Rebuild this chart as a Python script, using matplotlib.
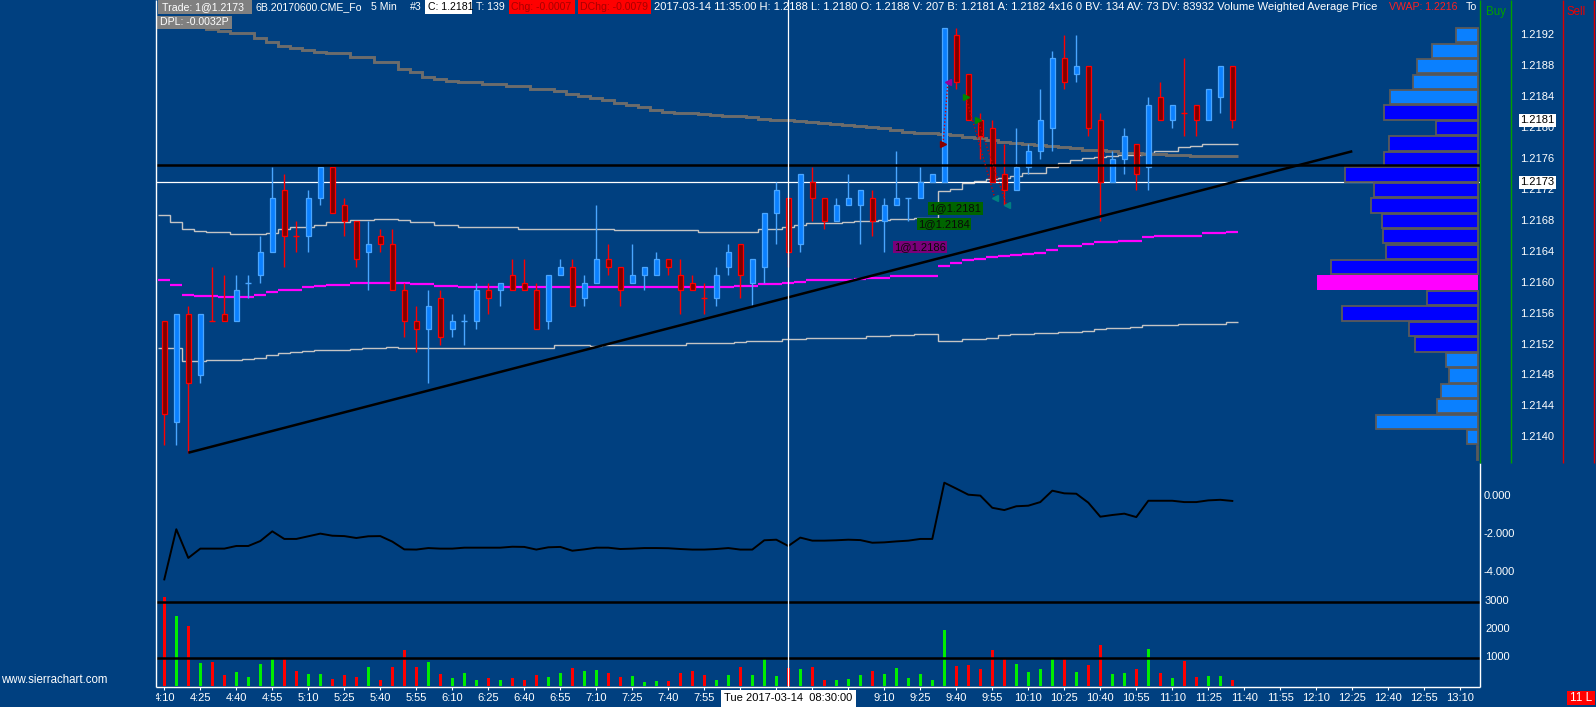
import numpy as np
import matplotlib
matplotlib.use("Agg")
import matplotlib.pyplot as plt
from matplotlib.transforms import blended_transform_factory as blend

plt.rcParams['font.family'] = ['Liberation Sans', 'DejaVu Sans']

# ---------------- data ----------------
OPEN = [1.2155, 1.2142, 1.2156, 1.2148, 1.2155, 1.2156, 1.2155, 1.2160, 1.2161, 1.2164,
        1.2172, 1.2166, 1.2166, 1.2171, 1.2175, 1.2170, 1.2168, 1.2164, 1.2166, 1.2165,
        1.2159, 1.2155, 1.2154, 1.2158, 1.2154, 1.2155, 1.2155, 1.2159, 1.2159, 1.2161,
        1.2160, 1.2159, 1.2155, 1.2161, 1.2162, 1.2158, 1.2160, 1.2163, 1.2162, 1.2160,
        1.2161, 1.2161, 1.2163, 1.2161, 1.2160, 1.2158, 1.2158, 1.2162, 1.2165, 1.2160,
        1.2162, 1.2169, 1.2171, 1.2165, 1.2173, 1.2171, 1.2168, 1.2170, 1.2170, 1.2171,
        1.2168, 1.2170, 1.2171, 1.2171, 1.2173, 1.2173, 1.2192, 1.2187, 1.2181, 1.2180,
        1.2174, 1.2172, 1.2175, 1.2177, 1.2180, 1.2189, 1.2187, 1.2188, 1.2181, 1.2173,
        1.2176, 1.2178, 1.2175, 1.2184, 1.2181, 1.2182, 1.2183, 1.2181, 1.2184, 1.2188]
HIGH = [1.2155, 1.2156, 1.2157, 1.2156, 1.2162, 1.2161, 1.2161, 1.2161, 1.2166, 1.2175,
        1.2174, 1.2168, 1.2172, 1.2175, 1.2175, 1.2171, 1.2168, 1.2168, 1.2167, 1.2167,
        1.2160, 1.2157, 1.2159, 1.2159, 1.2156, 1.2156, 1.2160, 1.2160, 1.2160, 1.2163,
        1.2163, 1.2160, 1.2161, 1.2163, 1.2163, 1.2161, 1.2170, 1.2165, 1.2162, 1.2165,
        1.2162, 1.2164, 1.2163, 1.2163, 1.2161, 1.2160, 1.2162, 1.2165, 1.2165, 1.2163,
        1.2169, 1.2173, 1.2171, 1.2174, 1.2175, 1.2171, 1.2171, 1.2174, 1.2172, 1.2172,
        1.2171, 1.2177, 1.2171, 1.2175, 1.2174, 1.2193, 1.2193, 1.2187, 1.2182, 1.2181,
        1.2178, 1.2180, 1.2178, 1.2185, 1.2190, 1.2192, 1.2192, 1.2188, 1.2182, 1.2177,
        1.2180, 1.2178, 1.2184, 1.2186, 1.2183, 1.2189, 1.2183, 1.2185, 1.2188, 1.2188]
LOW = [1.2139, 1.2139, 1.2138, 1.2147, 1.2155, 1.2155, 1.2155, 1.2158, 1.2160, 1.2164,
       1.2162, 1.2164, 1.2164, 1.2170, 1.2169, 1.2166, 1.2162, 1.2159, 1.2164, 1.2159,
       1.2153, 1.2151, 1.2147, 1.2152, 1.2153, 1.2152, 1.2154, 1.2156, 1.2157, 1.2159,
       1.2159, 1.2154, 1.2154, 1.2161, 1.2157, 1.2157, 1.2160, 1.2161, 1.2157, 1.2160,
       1.2159, 1.2161, 1.2161, 1.2156, 1.2159, 1.2156, 1.2157, 1.2161, 1.2158, 1.2157,
       1.2160, 1.2165, 1.2162, 1.2164, 1.2168, 1.2167, 1.2168, 1.2170, 1.2165, 1.2166,
       1.2164, 1.2170, 1.2168, 1.2171, 1.2173, 1.2173, 1.2185, 1.2181, 1.2176, 1.2173,
       1.2170, 1.2172, 1.2174, 1.2176, 1.2177, 1.2185, 1.2186, 1.2179, 1.2168, 1.2173,
       1.2174, 1.2172, 1.2172, 1.2181, 1.2180, 1.2179, 1.2179, 1.2181, 1.2182, 1.2180]
CLOSE = [1.2143, 1.2156, 1.2147, 1.2156, 1.2155, 1.2155, 1.2159, 1.2160, 1.2164, 1.2171,
         1.2166, 1.2166, 1.2171, 1.2175, 1.2169, 1.2168, 1.2163, 1.2165, 1.2165, 1.2159,
         1.2155, 1.2154, 1.2157, 1.2153, 1.2155, 1.2155, 1.2159, 1.2158, 1.2160, 1.2159,
         1.2159, 1.2154, 1.2161, 1.2162, 1.2157, 1.2160, 1.2163, 1.2162, 1.2159, 1.2161,
         1.2162, 1.2163, 1.2162, 1.2159, 1.2159, 1.2158, 1.2161, 1.2164, 1.2161, 1.2163,
         1.2169, 1.2172, 1.2164, 1.2174, 1.2171, 1.2168, 1.2170, 1.2171, 1.2172, 1.2168,
         1.2170, 1.2171, 1.2171, 1.2173, 1.2174, 1.2193, 1.2186, 1.2181, 1.2179, 1.2173,
         1.2172, 1.2175, 1.2177, 1.2181, 1.2189, 1.2186, 1.2188, 1.2180, 1.2173, 1.2176,
         1.2179, 1.2174, 1.2183, 1.2181, 1.2183, 1.2182, 1.2181, 1.2185, 1.2188, 1.2181]
DOJI_UP = [7, 25, 62]

VOLUME = [3159, 2492, 2141, 807, 842, 374, 491, 316, 772, 948,
          994, 503, 421, 421, 246, 386, 316, 667, 211, 667,
          1264, 667, 842, 421, 281, 456, 211, 281, 211, 281,
          211, 386, 316, 456, 632, 527, 562, 456, 316, 351,
          140, 176, 152, 433, 527, 386, 211, 386, 667, 386,
          983, 351, 632, 597, 667, 211, 211, 246, 386, 527,
          421, 632, 281, 421, 211, 1966, 702, 737, 597, 1264,
          983, 772, 491, 597, 948, 983, 491, 737, 1439, 421,
          456, 597, 1299, 456, 281, 878, 316, 351, 351, 207]

DELTA = [-4.39, -1.75, -3.26, -2.77, -2.77, -2.77, -2.63, -2.63, -2.37, -1.86,
         -2.26, -2.26, -2.12, -1.98, -2.09, -2.11, -2.21, -2.12, -2.11, -2.40,
         -2.81, -2.82, -2.74, -2.77, -2.77, -2.72, -2.72, -2.72, -2.72, -2.67,
         -2.68, -2.82, -2.70, -2.68, -2.88, -2.81, -2.72, -2.72, -2.79, -2.77,
         -2.74, -2.74, -2.75, -2.79, -2.82, -2.82, -2.79, -2.74, -2.82, -2.82,
         -2.33, -2.30, -2.63, -2.19, -2.35, -2.35, -2.33, -2.30, -2.32, -2.46,
         -2.44, -2.39, -2.35, -2.26, -2.26, 0.70, 0.39, 0.07, 0.02, -0.62,
         -0.74, -0.54, -0.51, -0.32, 0.28, 0.14, 0.12, -0.35, -1.09, -1.00,
         -0.93, -1.11, -0.25, -0.25, -0.25, -0.32, -0.32, -0.23, -0.20, -0.26]

MA_GRAY = [1.21938, 1.21936, 1.21934, 1.21932, 1.21928, 1.21926, 1.21923, 1.21923, 1.21917, 1.21911,
           1.21906, 1.21903, 1.21901, 1.21899, 1.21897, 1.21897, 1.21892, 1.21892, 1.21886, 1.21886,
           1.21877, 1.21872, 1.21866, 1.21864, 1.21861, 1.21859, 1.21859, 1.21857, 1.21857, 1.21854,
           1.21854, 1.21851, 1.21851, 1.21848, 1.21844, 1.21841, 1.21839, 1.21836, 1.21833, 1.21830,
           1.21827, 1.21824, 1.21821, 1.21820, 1.21819, 1.21818, 1.21817, 1.21816, 1.21815, 1.21814,
           1.21812, 1.21810, 1.21810, 1.21809, 1.21808, 1.21806, 1.21805, 1.21804, 1.21803, 1.21801,
           1.21800, 1.21798, 1.21795, 1.21794, 1.21793, 1.21792, 1.21791, 1.21789, 1.21787, 1.21785,
           1.21782, 1.21781, 1.21780, 1.21778, 1.21777, 1.21776, 1.21774, 1.21772, 1.21771, 1.21770,
           1.21768, 1.21768, 1.21767, 1.21766, 1.21765, 1.21765, 1.21764, 1.21764, 1.21764, 1.21764]

BAND_UP = [1.21688, 1.21678, 1.21669, 1.21667, 1.21665, 1.21665, 1.21663, 1.21663, 1.21663, 1.21664,
           1.21670, 1.21672, 1.21672, 1.21675, 1.21679, 1.21679, 1.21681, 1.21681, 1.21682, 1.21682,
           1.21681, 1.21678, 1.21678, 1.21675, 1.21674, 1.21672, 1.21672, 1.21672, 1.21672, 1.21672,
           1.21670, 1.21670, 1.21670, 1.21670, 1.21669, 1.21669, 1.21669, 1.21669, 1.21668, 1.21668,
           1.21668, 1.21668, 1.21668, 1.21668, 1.21668, 1.21666, 1.21666, 1.21666, 1.21666, 1.21666,
           1.21669, 1.21670, 1.21672, 1.21674, 1.21677, 1.21677, 1.21677, 1.21678, 1.21680, 1.21680,
           1.21681, 1.21682, 1.21683, 1.21684, 1.21684, 1.21718, 1.21721, 1.21729, 1.21731, 1.21734,
           1.21736, 1.21738, 1.21742, 1.21742, 1.21750, 1.21755, 1.21759, 1.21761, 1.21762, 1.21764,
           1.21765, 1.21765, 1.21768, 1.21770, 1.21770, 1.21775, 1.21777, 1.21779, 1.21779, 1.21780]

BAND_MID = [1.21603, 1.21597, 1.21584, 1.21583, 1.21583, 1.21582, 1.21582, 1.21582, 1.21584, 1.21588,
            1.21591, 1.21591, 1.21594, 1.21596, 1.21597, 1.21597, 1.21599, 1.21599, 1.21600, 1.21600,
            1.21600, 1.21598, 1.21598, 1.21596, 1.21596, 1.21595, 1.21595, 1.21595, 1.21595, 1.21595,
            1.21595, 1.21595, 1.21595, 1.21594, 1.21595, 1.21594, 1.21595, 1.21595, 1.21595, 1.21595,
            1.21595, 1.21595, 1.21595, 1.21595, 1.21595, 1.21595, 1.21595, 1.21595, 1.21596, 1.21596,
            1.21598, 1.21598, 1.21600, 1.21601, 1.21603, 1.21603, 1.21603, 1.21603, 1.21605, 1.21606,
            1.21606, 1.21608, 1.21608, 1.21608, 1.21608, 1.21622, 1.21626, 1.21629, 1.21631, 1.21633,
            1.21635, 1.21636, 1.21637, 1.21639, 1.21642, 1.21647, 1.21647, 1.21650, 1.21653, 1.21653,
            1.21654, 1.21654, 1.21659, 1.21660, 1.21660, 1.21661, 1.21661, 1.21664, 1.21664, 1.21665]

BAND_LO = [1.21515, 1.21515, 1.21499, 1.21499, 1.21500, 1.21500, 1.21500, 1.21501, 1.21503, 1.21506,
           1.21509, 1.21510, 1.21512, 1.21513, 1.21513, 1.21513, 1.21514, 1.21516, 1.21516, 1.21517,
           1.21516, 1.21516, 1.21516, 1.21515, 1.21515, 1.21515, 1.21515, 1.21515, 1.21515, 1.21515,
           1.21516, 1.21516, 1.21515, 1.21519, 1.21519, 1.21519, 1.21518, 1.21519, 1.21519, 1.21520,
           1.21520, 1.21520, 1.21520, 1.21520, 1.21522, 1.21522, 1.21522, 1.21522, 1.21523, 1.21524,
           1.21525, 1.21525, 1.21527, 1.21527, 1.21528, 1.21528, 1.21528, 1.21529, 1.21529, 1.21531,
           1.21531, 1.21532, 1.21532, 1.21534, 1.21534, 1.21525, 1.21525, 1.21527, 1.21527, 1.21529,
           1.21532, 1.21533, 1.21533, 1.21535, 1.21535, 1.21536, 1.21536, 1.21537, 1.21540, 1.21541,
           1.21541, 1.21542, 1.21545, 1.21545, 1.21545, 1.21547, 1.21547, 1.21547, 1.21547, 1.21549]

PROFILE_PRICE = [1.2192, 1.2190, 1.2188, 1.2186, 1.2184, 1.2182, 1.2180, 1.2178, 1.2176, 1.2174,
                 1.2172, 1.2170, 1.2168, 1.2166, 1.2164, 1.2162, 1.2160, 1.2158, 1.2156, 1.2154,
                 1.2152, 1.2150, 1.2148, 1.2146, 1.2144, 1.2142, 1.2140, 1.2138]
PROFILE_VOL = [565, 1165, 1525, 1625, 2200, 2358, 1065, 2240, 2358, 3333,
               2608, 2683, 2408, 2383, 2308, 3683, 4033, 1283, 3408, 1733,
               1583, 815, 740, 940, 1040, 2565, 283, 40]
VALUE_AREA = (1.2152, 1.2182)
POC = 1.2160

TREND_X = [2, 99]
TREND_Y = [1.2138, 1.2177]
HLINE_BLACK = 1.21752
HLINE_WHITE = 1.2173
CROSS_BAR = 52
VOL_LINES = [3000, 1000]

TRADE_MARKS = [(64.9, 1.2178, '>', '#8B0000'), (65.3, 1.2186, '<', '#990099'),
               (66.8, 1.2184, '>', '#008800'), (67.8, 1.2181, '>', '#008800'),
               (69.2, 1.2171, '<', '#008080'), (70.2, 1.2170, '<', '#008080')]
TRADE_LINKS = [(0, 1), (2, 4), (3, 5)]
TRADE_LABELS = [("1@1.2181", 63.75, 1.21696, '#006400'),
                ("1@1.2184", 62.8, 1.21676, '#006400'),
                ("1@1.2186", 60.8, 1.21646, '#7a007a')]

XTICK_LABELS = ["4:10", "4:25", "4:40", "4:55", "5:10", "5:25", "5:40", "5:55", "6:10", "6:25",
                "6:40", "6:55", "7:10", "7:25", "7:40", "7:55", "8:10", "8:25", "8:40", "8:55",
                "9:10", "9:25", "9:40", "9:55", "10:10", "10:25", "10:40", "10:55", "11:10", "11:25",
                "11:40", "11:55", "12:10", "12:25", "12:40", "12:55", "13:10"]
XTICK_STEP = 3
PRICE_TICKS = [1.2192, 1.2188, 1.2184, 1.2180, 1.2176, 1.2172, 1.2168, 1.2164, 1.2160,
               1.2156, 1.2152, 1.2148, 1.2144, 1.2140]
DELTA_TICKS = [0.0, -2.0, -4.0]
VOL_TICKS = [3000, 2000, 1000]

HEADER_INFO = ("2017-03-14 11:35:00 H: 1.2188 L: 1.2180 O: 1.2188 V: 207 B: 1.2181 "
               "A: 1.2182 4x16 0 BV: 134 AV: 73 DV: 83932 Volume Weighted Average Price")

# ---------------- layout / style ----------------
BG = "#004080"
W, H = 1596, 707
FS = 8
HFS = 7.6
X0_PX, X1_PX = 156, 1480
BAR_PX, FIRST_PX = 12.0, 164.3
XLIM = ((X0_PX - FIRST_PX) / BAR_PX, (X1_PX - FIRST_PX) / BAR_PX)

fig = plt.figure(figsize=(W / 100, H / 100), dpi=100, facecolor=BG)


def px_axes(x0, y0, x1, y1):
    a = fig.add_axes([x0 / W, 1 - y1 / H, (x1 - x0) / W, (y1 - y0) / H])
    a.set_axis_off()
    a.set_xlim(*XLIM)
    return a


ov = fig.add_axes([0, 0, 1, 1])
ov.set_xlim(0, W)
ov.set_ylim(H, 0)
ov.set_axis_off()
ov.set_zorder(10)

ax_p = px_axes(X0_PX, 0, X1_PX, 463)
ax_d = px_axes(X0_PX, 463, X1_PX, 590)
ax_v = px_axes(X0_PX, 590, X1_PX, 687)
ax_x = px_axes(X0_PX, 687, X1_PX, 707)

# price scale: 1.2192 at y=35.3px, 7.73 px per 0.0001
TICK_PX = 7.73
ax_p.set_ylim(1.2192 - (463 - 35.3) / TICK_PX * 1e-4, 1.2192 + 35.3 / TICK_PX * 1e-4)
ax_d.set_ylim((496 - 590) / 19.0, (496 - 463) / 19.0)
ax_v.set_ylim((685.5 - 687) / 0.028, (685.5 - 590) / 0.028)
ax_x.set_ylim(20, 0)

x = np.arange(len(OPEN))
o = np.array(OPEN); h = np.array(HIGH); l = np.array(LOW); c = np.array(CLOSE)
up = np.array([(c[i] > o[i]) or (c[i] == o[i] and i in DOJI_UP) for i in x])
doji = o == c

UP_FILL, UP_EDGE = "#0a80ff", "#4aa6ff"
DN_FILL, DN_EDGE = "#800000", "#ff0000"

# bands and averages
edges = np.arange(len(x) + 1) - 0.5
ax_p.stairs(BAND_UP, edges, color="#c4c4c4", lw=1.0, zorder=1, baseline=None)
ax_p.stairs(BAND_LO, edges, color="#c4c4c4", lw=1.0, zorder=1, baseline=None)
ax_p.hlines(BAND_MID, x - 0.5, x + 0.5, color="#ff00ff", lw=1.6, zorder=1.5)
ax_p.stairs(MA_GRAY, edges, color="#6c6c6c", lw=2.1, zorder=1.2, baseline=None)

ax_p.axhline(HLINE_WHITE, color="white", lw=0.9, zorder=2.5)

# candles
ax_p.vlines(x, l, h, colors=np.where(up, UP_EDGE, DN_EDGE), lw=1.0, zorder=2.8)
nd = ~doji
ax_p.bar(x[nd], np.abs(c - o)[nd], bottom=np.minimum(o, c)[nd], width=0.44,
         color=np.where(up, UP_FILL, DN_FILL)[nd], edgecolor=np.where(up, UP_EDGE, DN_EDGE)[nd],
         lw=0.9, zorder=3)
ax_p.hlines(o[doji], x[doji] - 0.25, x[doji] + 0.25,
            colors=np.where(up, UP_EDGE, DN_EDGE)[doji], lw=1.0, zorder=3)

# volume profile
pv = np.array(PROFILE_VOL, float)
pw = pv / pv.max() * (161.3 / BAR_PX)
right = (1478.3 - FIRST_PX) / BAR_PX
for pr, w in zip(PROFILE_PRICE, pw):
    if abs(pr - POC) < 1e-7:
        ax_p.barh(pr, w, left=right - w, height=0.0002, color="#ff00ff", lw=0, zorder=4)
    else:
        inva = VALUE_AREA[0] - 1e-7 <= pr <= VALUE_AREA[1] + 1e-7
        ax_p.barh(pr, w, left=right - w, height=0.000185, color="#0000ff" if inva else "#0a80ff",
                  edgecolor="#5a5a5a", lw=1.3, zorder=4)

ax_p.axhline(HLINE_BLACK, color="black", lw=1.8, zorder=5)
ax_p.plot(TREND_X, TREND_Y, color="black", lw=1.8, zorder=5, solid_capstyle="butt")

# trades
for a, b in TRADE_LINKS:
    ax_p.plot([TRADE_MARKS[a][0], TRADE_MARKS[b][0]], [TRADE_MARKS[a][1], TRADE_MARKS[b][1]],
              color="#cc0000", lw=1.0, ls=(0, (1, 1.5)), zorder=6)
for tx, ty, m, col in TRADE_MARKS:
    ax_p.plot([tx], [ty], marker=m, ms=5, color=col, mec=col, ls="none", zorder=7)
for txt, tx, ty, col in TRADE_LABELS:
    ax_p.text(tx, ty, txt, fontsize=FS, color="#0a0a0a", ha="left", va="center", zorder=7,
              bbox=dict(boxstyle="square,pad=0.12", facecolor=col, edgecolor="none"))

# crosshair
for a in (ax_p, ax_d, ax_v):
    a.axvline(CROSS_BAR, color="white", lw=0.9, zorder=8)

# delta panel
ax_d.plot(x, DELTA, color="black", lw=1.4, zorder=3)

# volume panel
ax_v.bar(x, VOLUME, width=0.2, color=np.where(up, "#00ee00", "#ff0000"), lw=0, zorder=3)
for vl in VOL_LINES:
    ax_v.axhline(vl, color="black", lw=1.8, zorder=4)

# x axis labels (the ones hidden behind the crosshair date box are not drawn)
xt = np.arange(len(XTICK_LABELS)) * XTICK_STEP
ax_x.vlines(xt, 0, 3, color="white", lw=0.8)
for xx, lab in zip(xt, XTICK_LABELS):
    if abs(xx - CROSS_BAR) < 6.5:
        continue
    ax_x.text(xx, 11.3, lab, fontsize=FS, color="white", ha="center", va="center", clip_on=True)
ax_x.text(CROSS_BAR, 11.3, "Tue 2017-03-14  08:30:00", fontsize=FS, color="black", ha="center",
          va="center", zorder=5, clip_on=True,
          bbox=dict(boxstyle="square,pad=0.3", facecolor="white", edgecolor="none"))

# borders and columns
ov.vlines(X0_PX, 0, 687, color="white", lw=1.0)
ov.hlines(687, X0_PX, X1_PX, color="white", lw=1.0)
ov.vlines(X1_PX, 463, 687, color="white", lw=1.0)
ov.vlines([1480, 1511], 0, 463, color="#00a000", lw=1.0)
ov.vlines([1563, 1594], 0, 463, color="#dd0000", lw=1.0)
ov.text(1486, 12, "Buy", fontsize=FS + 0.3, color="#00a000", va="center")
ov.text(1566.5, 12, "Sell", fontsize=FS + 0.3, color="#ee0000", va="center")

# axis labels on the right
tp = blend(ov.transData, ax_p.transData)
for pt in PRICE_TICKS:
    ov.text(1520, pt, f"{pt:.4f}", transform=tp, fontsize=FS, color="white", va="center")
for val in (CLOSE[-1], HLINE_WHITE):
    ov.text(1520.5, val, f"{val:.4f}", transform=tp, fontsize=FS, color="black", va="center",
            bbox=dict(boxstyle="square,pad=0.15", facecolor="white", edgecolor="none"))
td = blend(ov.transData, ax_d.transData)
for dv in DELTA_TICKS:
    ov.text(1484, dv, f"{dv:.3f}", transform=td, fontsize=FS, color="white", va="center")
tv = blend(ov.transData, ax_v.transData)
for vv in VOL_TICKS:
    ov.text(1485, vv, f"{vv}", transform=tv, fontsize=FS, color="white", va="center")

# header
HEADER = [
    (162.5, "Trade: 1@1.2173", "white", "#808080", (158.3, 251.7)),
    (255.0, "6B.20170600.CME_Fo", "white", None, None),
    (371, "5 Min", "white", None, None),
    (410, "#3", "white", None, None),
    (427.5, "C: 1.2181", "black", "white", (425.3, 472)),
    (475.5, "T: 139", "white", None, None),
    (511, "Chg: -0.0007", "#a80000", "#ff0000", (509, 575)),
    (579.5, "DChg: -0.0079", "#a80000", "#ff0000", (577.7, 651)),
    (1389, "VWAP: 1.2216", "#ff2020", None, None),
    (1466, "To", "white", None, None),
]
for hx, txt, col, box, span in HEADER:
    if box is not None:
        ov.fill_between([span[0], span[1]], 0, 13.5, color=box, lw=0, zorder=1)
    ov.text(hx, 7, txt, fontsize=HFS, color=col, va="center", zorder=2)

# long info string, sized to span the same width as in the reference
info = ov.text(654.5, 7, HEADER_INFO, fontsize=HFS, color="white", va="center", zorder=2)
renderer = fig.canvas.get_renderer()
wpx = info.get_window_extent(renderer=renderer).width
info.set_fontsize(HFS * (1372 - 654.5) / wpx)

ov.fill_between([157.3, 231.7], 15.7, 28.5, color="#808080", lw=0, zorder=1)
ov.text(160.5, 22.3, "DPL: -0.0032P", fontsize=HFS, color="white", va="center", zorder=2)

ov.text(1, 680, "www.sierrachart.com", fontsize=FS + 0.3, color="white", va="center")
ov.fill_between([1567, 1595], 690.7, 705, color="#ff0000", lw=0)
ov.text(1581, 698, "11 L", fontsize=FS + 0.5, color="white", ha="center", va="center")

fig.savefig("out.png", dpi=100, facecolor=BG)
